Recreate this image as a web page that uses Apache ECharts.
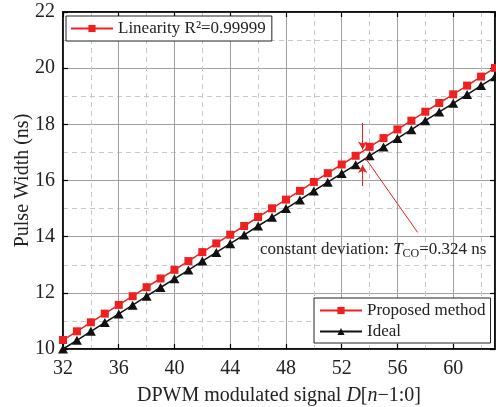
<!DOCTYPE html>
<html><head><meta charset="utf-8">
<script src="https://cdn.jsdelivr.net/npm/echarts@6/dist/echarts.min.js"></script>
<style>html,body{margin:0;padding:0;background:#fff}#c{width:496px;height:407px}</style>
</head><body><div id="c"></div>
<script>
const codes = [32,33,34,35,36,37,38,39,40,41,42,43,44,45,46,47,48,49,50,51,52,53,54,55,56,57,58,59,60,61,62,63];
const proposed = [10.32,10.63,10.95,11.26,11.57,11.88,12.20,12.51,12.82,13.13,13.45,13.76,14.07,14.38,14.70,15.01,15.32,15.63,15.95,16.26,16.57,16.88,17.20,17.51,17.82,18.13,18.45,18.76,19.07,19.38,19.70,20.01];
const ideal = [10.00,10.31,10.63,10.94,11.25,11.56,11.88,12.19,12.50,12.81,13.13,13.44,13.75,14.06,14.38,14.69,15.00,15.31,15.63,15.94,16.25,16.56,16.88,17.19,17.50,17.81,18.13,18.44,18.75,19.06,19.38,19.69];
const xTicks = [32,36,40,44,48,52,56,60];
const yTicks = [10,12,14,16,18,20,22];

const FONT = 'Liberation Serif';
const chart = echarts.init(document.getElementById('c'), null, {renderer:'canvas'});
const pair = (xs, ys) => xs.map((x,i)=>[x, ys[i]]);

const grid = {left:63, right:1, top:12, bottom:58, show:true, borderColor:'#000', borderWidth:1.5, backgroundColor:'#fff', containLabel:false, outerBoundsMode:'none'};
const axisBase = {
  type:'value',
  axisLine:{show:true, lineStyle:{color:'#000', width:1.5}},
  axisTick:{show:true, inside:true, length:5, lineStyle:{color:'#000', width:1.2}},
  minorTick:{show:false, splitNumber:2},
  axisLabel:{color:'#222', fontFamily:FONT, fontSize:20},
};
const minorLine = {show:true, lineStyle:{color:'#c8c8c8', width:1, type:[5,4]}};
chart.setOption({
  animation:false,
  grid,
  xAxis:[{
    ...axisBase, min:32, max:63, interval:4, position:'bottom',
    axisLabel:{...axisBase.axisLabel, margin:10, showMaxLabel:false, formatter:v=>xTicks.includes(v)?String(v):''},
    splitLine:{show:true, lineStyle:{color:'#a0a0a0', width:1}},
    minorSplitLine:minorLine,
    name:'DPWM modulated signal {i|D}[{i|n}\u22121:0]', nameLocation:'middle', nameGap:37, nameMoveOverlap:false,
    nameTextStyle:{color:'#222', fontFamily:FONT, fontSize:20, rich:{i:{fontStyle:'italic', fontFamily:FONT, fontSize:20, color:'#222'}}}
  },{
    ...axisBase, min:32, max:63, interval:4, position:'top',
    axisLabel:{show:false}, splitLine:{show:false}
  }],
  yAxis:[{
    ...axisBase, min:10, max:22, interval:2, position:'left',
    axisLabel:{...axisBase.axisLabel, margin:8, formatter:v=>yTicks.includes(v)?String(v):''},
    splitLine:{show:true, lineStyle:{color:'#a0a0a0', width:1}},
    minorSplitLine:minorLine,
    name:'Pulse Width (ns)', nameLocation:'middle', nameGap:30, nameMoveOverlap:false,
    nameTextStyle:{color:'#222', fontFamily:FONT, fontSize:20}
  },{
    ...axisBase, min:10, max:22, interval:2, position:'right',
    axisLabel:{show:false}, splitLine:{show:false}
  }],
  legend:[{
    left:66, top:16, orient:'vertical', padding:[4,6,4,4],
    data:['Proposed method'], formatter:()=> 'Linearity R\u00b2=0.99999',
    backgroundColor:'#fff', borderColor:'#222', borderWidth:1, borderRadius:0,
    itemWidth:42, itemHeight:9, itemGap:4,
    textStyle:{fontFamily:FONT, fontSize:17, color:'#222'}
  },{
    left:314, top:298, orient:'vertical', padding:[4,5,3,5],
    data:['Proposed method','Ideal'],
    backgroundColor:'#fff', borderColor:'#222', borderWidth:1, borderRadius:0,
    itemWidth:42, itemHeight:9, itemGap:4,
    textStyle:{fontFamily:FONT, fontSize:17, color:'#222'}
  }],
  series:[{
    name:'Ideal', type:'line', data:pair(codes, ideal),
    symbol:'triangle', symbolSize:[10,9], clip:false,
    lineStyle:{color:'#111', width:1.5}, itemStyle:{color:'#111'}
  },{
    name:'Proposed method', type:'line', data:pair(codes, proposed),
    symbol:'rect', symbolSize:8, clip:false,
    lineStyle:{color:'#ee2020', width:1.5}, itemStyle:{color:'#ee2020'},
    markLine:{
      silent:true, symbol:['none','arrow'], symbolSize:[7,8],
      lineStyle:{color:'#ee2020', width:1, type:'solid'},
      label:{show:false},
      data:[
        [{coord:[53.5,18.05]},{coord:[53.5,17.1]}],
        [{coord:[53.5,15.8]},{coord:[53.5,16.55]}],
        [{coord:[57.45,14.15],symbol:'none'},{coord:[53.7,16.8],symbol:'none'}]
      ]
    }
  }],
  graphic:[{
    type:'text', left:260, top:241, z:100,
    style:{
      text:'constant deviation: {i|T}{s|CO}=0.324 ns',
      fontFamily:FONT, fontSize:17, fill:'#222',
      rich:{
        i:{fontStyle:'italic', fontFamily:FONT, fontSize:17, fill:'#222'},
        s:{fontFamily:FONT, fontSize:12, fill:'#222', verticalAlign:'bottom', padding:[8,0,0,0]}
      }
    }
  }]
});
</script></body></html>
